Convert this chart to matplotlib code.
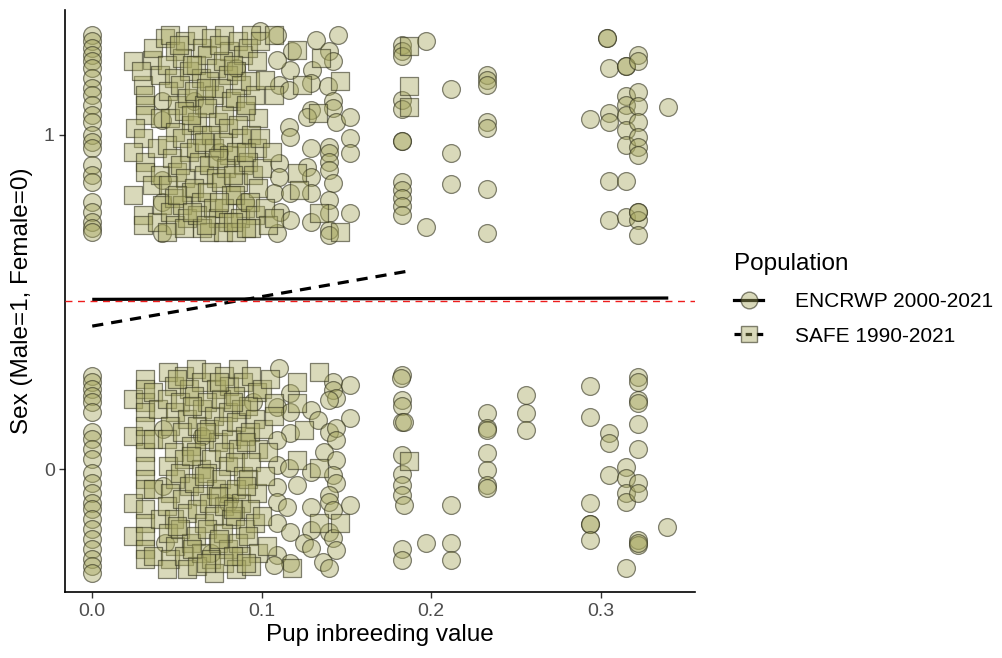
import numpy as np
import matplotlib
matplotlib.use('Agg')
import matplotlib.pyplot as plt
from matplotlib.lines import Line2D

plt.rcParams['font.family'] = ['Liberation Sans', 'DejaVu Sans']

# ENCRWP (circles): points (x = inbreeding, y = jittered sex)
enc_x0_up = [1.30, 1.28, 1.26, 1.24, 1.22, 1.20, 1.17, 1.14, 1.12, 1.09, 1.06, 1.04,
             1.00, 0.98, 0.96, 0.91, 0.88, 0.86, 0.80, 0.77, 0.74, 0.72, 0.71]
enc_x0_lo = [0.28, 0.26, 0.24, 0.22, 0.20, 0.17, 0.11, 0.09, 0.06, 0.03, -0.01, -0.04,
             -0.07, -0.10, -0.12, -0.15, -0.18, -0.21, -0.24, -0.27, -0.29, -0.31]

enc_mid = [
    # hidden under the squares
    (0.041, 1.10), (0.041, 1.045), (0.041, 0.865), (0.041, 0.80), (0.041, 0.706),
    (0.060, 1.10), (0.075, 0.95), (0.090, 0.80), (0.085, 1.20), (0.099, 1.31),
    (0.042, 0.12), (0.042, -0.05), (0.043, -0.22), (0.065, 0.10), (0.080, -0.10),
    (0.095, 0.20), (0.070, -0.25),
    # upper band 0.1-0.15
    (0.109, 1.30), (0.118, 1.25), (0.132, 1.285), (0.145, 1.30), (0.140, 1.25),
    (0.142, 1.22), (0.130, 1.195), (0.117, 1.195), (0.109, 1.225), (0.110, 1.15),
    (0.116, 1.135), (0.129, 1.155), (0.139, 1.145), (0.142, 1.10), (0.142, 1.08),
    (0.129, 1.075), (0.127, 1.055), (0.144, 1.04), (0.152, 1.055), (0.152, 0.99),
    (0.152, 0.946), (0.116, 1.025), (0.117, 0.995), (0.129, 0.96), (0.140, 0.965),
    (0.140, 0.946), (0.140, 0.92), (0.140, 0.895), (0.110, 0.915), (0.110, 0.875),
    (0.127, 0.905), (0.129, 0.875), (0.142, 0.855), (0.107, 0.825), (0.117, 0.825),
    (0.129, 0.825), (0.140, 0.805), (0.140, 0.766), (0.152, 0.766), (0.111, 0.77),
    (0.117, 0.746), (0.129, 0.74), (0.109, 0.707), (0.140, 0.716), (0.140, 0.70),
    # lower band 0.1-0.15
    (0.110, 0.302), (0.142, 0.26), (0.142, 0.237), (0.144, 0.212), (0.152, 0.251),
    (0.140, 0.207), (0.117, 0.227), (0.109, 0.186), (0.117, 0.171), (0.129, 0.177),
    (0.133, 0.147), (0.152, 0.152), (0.117, 0.108), (0.140, 0.111), (0.144, 0.123),
    (0.144, 0.087), (0.109, 0.087), (0.137, 0.051), (0.144, 0.027), (0.109, 0.012),
    (0.116, 0.003), (0.129, -0.009), (0.142, -0.018), (0.144, -0.042), (0.121, -0.048),
    (0.109, -0.054), (0.109, -0.099), (0.115, -0.114), (0.129, -0.114), (0.140, -0.078),
    (0.140, -0.099), (0.152, -0.108), (0.142, -0.123), (0.109, -0.162), (0.129, -0.183),
    (0.117, -0.189), (0.140, -0.189), (0.142, -0.207), (0.125, -0.222), (0.144, -0.243),
    (0.129, -0.237), (0.109, -0.257), (0.117, -0.281), (0.136, -0.278), (0.140, -0.296),
    (0.107, -0.287),
]

enc_right = [
    # upper band
    (0.183, 1.27), (0.183, 1.25), (0.183, 1.235), (0.183, 1.105), (0.183, 1.078),
    (0.183, 0.983), (0.183, 0.983), (0.183, 0.86), (0.183, 0.835), (0.183, 0.81),
    (0.183, 0.787), (0.183, 0.76), (0.197, 1.28), (0.197, 0.725),
    (0.212, 1.137), (0.212, 0.946), (0.212, 0.853),
    (0.233, 1.18), (0.233, 1.165), (0.233, 1.15), (0.233, 1.04), (0.233, 1.02),
    (0.233, 0.838), (0.233, 0.707), (0.294, 1.048),
    (0.304, 1.29), (0.304, 1.29), (0.305, 1.20), (0.305, 1.066), (0.305, 1.04),
    (0.305, 0.862), (0.305, 0.744),
    (0.315, 1.205), (0.315, 1.205), (0.315, 1.117), (0.315, 1.09), (0.315, 1.06),
    (0.315, 1.015), (0.315, 0.97), (0.315, 0.862), (0.315, 0.755),
    (0.322, 1.24), (0.322, 1.22), (0.322, 1.127), (0.322, 1.085), (0.322, 1.04),
    (0.322, 0.995), (0.322, 0.965), (0.322, 0.94), (0.322, 0.77), (0.322, 0.745),
    (0.322, 0.70), (0.322, 0.77), (0.340, 1.084),
    # lower band
    (0.183, 0.281), (0.182, 0.272), (0.183, 0.207), (0.183, 0.19), (0.183, 0.142),
    (0.184, 0.142), (0.183, 0.042), (0.183, -0.013), (0.183, -0.048), (0.183, -0.078),
    (0.184, -0.108), (0.183, -0.24), (0.183, -0.272), (0.197, -0.222),
    (0.212, -0.108), (0.212, -0.22), (0.212, -0.272),
    (0.233, 0.168), (0.233, 0.123), (0.233, 0.117), (0.233, 0.048), (0.233, -0.003),
    (0.233, -0.048), (0.233, -0.057),
    (0.256, 0.222), (0.256, 0.168), (0.256, 0.117),
    (0.294, 0.248), (0.294, 0.156), (0.294, -0.102), (0.294, -0.165), (0.294, -0.165),
    (0.294, -0.213),
    (0.305, 0.108), (0.305, 0.078), (0.305, -0.018),
    (0.315, 0.007), (0.315, -0.027), (0.315, -0.072), (0.315, -0.098), (0.315, -0.297),
    (0.322, 0.276), (0.322, 0.261), (0.322, 0.207), (0.322, 0.197), (0.322, 0.135),
    (0.322, 0.06), (0.322, -0.042), (0.322, -0.072), (0.322, -0.213), (0.322, -0.228),
    (0.322, -0.22), (0.339, -0.173),
]

# SAFE (squares)
safe_up = [
    (0.024, 1.22), (0.035, 1.225), (0.036, 1.26), (0.043, 1.29), (0.030, 1.15),
    (0.031, 1.12), (0.031, 1.09), (0.031, 1.06), (0.025, 1.02), (0.030, 0.99),
    (0.024, 0.95), (0.031, 0.92), (0.031, 0.89), (0.024, 0.82), (0.035, 0.85),
    (0.030, 0.76), (0.030, 0.73), (0.038, 0.74), (0.040, 1.18), (0.040, 1.05),
    (0.038, 0.96), (0.040, 0.88), (0.041, 0.79), (0.029, 1.19),
    (0.046, 1.30), (0.049, 1.25), (0.044, 1.21), (0.048, 1.17), (0.045, 1.13),
    (0.050, 1.09), (0.046, 1.05), (0.049, 1.01), (0.044, 0.97), (0.047, 0.93),
    (0.050, 0.89), (0.045, 0.85), (0.048, 0.81), (0.046, 0.77), (0.049, 0.73),
    (0.044, 0.71),
    (0.055, 1.28), (0.053, 1.23), (0.057, 1.19), (0.052, 1.15), (0.056, 1.11),
    (0.054, 1.07), (0.058, 1.03), (0.053, 0.99), (0.057, 0.95), (0.052, 0.91),
    (0.055, 0.87), (0.058, 0.83), (0.053, 0.79), (0.056, 0.75), (0.054, 0.72),
    (0.062, 1.30), (0.065, 1.26), (0.061, 1.21), (0.064, 1.17), (0.060, 1.13),
    (0.066, 1.09), (0.062, 1.04), (0.065, 1.00), (0.061, 0.96), (0.063, 0.92),
    (0.066, 0.88), (0.060, 0.84), (0.064, 0.80), (0.062, 0.76), (0.065, 0.72),
    (0.070, 1.29), (0.068, 1.24), (0.073, 1.20), (0.069, 1.16), (0.072, 1.12),
    (0.068, 1.08), (0.074, 1.04), (0.070, 1.00), (0.072, 0.96), (0.069, 0.91),
    (0.073, 0.87), (0.068, 0.83), (0.071, 0.78), (0.074, 0.75), (0.069, 0.71),
    (0.078, 1.30), (0.081, 1.25), (0.077, 1.22), (0.080, 1.18), (0.076, 1.14),
    (0.082, 1.10), (0.078, 1.06), (0.080, 1.02), (0.077, 0.98), (0.081, 0.94),
    (0.079, 0.90), (0.076, 0.86), (0.082, 0.82), (0.078, 0.78), (0.080, 0.74),
    (0.077, 0.71),
    (0.086, 1.28), (0.089, 1.24), (0.085, 1.19), (0.088, 1.15), (0.084, 1.11),
    (0.090, 1.07), (0.086, 1.03), (0.088, 0.99), (0.085, 0.95), (0.089, 0.91),
    (0.086, 0.86), (0.084, 0.82), (0.090, 0.78), (0.087, 0.75), (0.085, 0.71),
    (0.094, 1.30), (0.092, 1.26), (0.097, 1.22), (0.093, 1.16), (0.096, 1.12),
    (0.098, 1.05), (0.094, 1.00), (0.097, 0.96), (0.092, 0.92), (0.095, 0.88),
    (0.098, 0.84), (0.093, 0.80), (0.096, 0.76), (0.094, 0.72),
    (0.051, 1.27), (0.059, 1.21), (0.067, 1.14), (0.075, 1.27), (0.083, 1.21),
    (0.091, 1.09), (0.058, 1.06), (0.066, 0.98), (0.074, 0.93), (0.083, 0.88),
    (0.091, 0.95), (0.050, 0.82), (0.059, 0.77), (0.067, 0.73), (0.075, 0.80),
    (0.083, 0.74), (0.091, 0.72), (0.099, 0.99), (0.100, 0.90), (0.102, 0.78),
    (0.104, 0.73), (0.099, 1.28), (0.106, 0.95),
    (0.107, 1.30), (0.121, 1.255), (0.135, 1.23), (0.146, 1.16), (0.124, 1.15),
    (0.102, 1.165), (0.107, 1.12), (0.133, 1.066), (0.121, 0.886), (0.122, 0.835),
    (0.134, 0.766), (0.146, 0.71), (0.107, 0.75),
    (0.187, 1.266), (0.187, 1.147), (0.187, 1.082),
]

safe_lo = [
    (0.024, 0.21), (0.024, 0.10), (0.024, -0.10), (0.024, -0.20), (0.031, 0.27),
    (0.031, 0.24), (0.031, 0.20), (0.031, 0.17), (0.031, 0.13), (0.031, 0.09),
    (0.031, 0.05), (0.031, 0.01), (0.031, -0.03), (0.031, -0.06), (0.031, -0.12),
    (0.031, -0.16), (0.031, -0.20), (0.031, -0.24), (0.031, -0.27), (0.036, 0.23),
    (0.036, 0.09), (0.036, -0.06), (0.036, -0.26), (0.039, 0.18), (0.040, -0.15),
    (0.045, 0.29), (0.048, 0.25), (0.044, 0.21), (0.049, 0.17), (0.046, 0.13),
    (0.044, 0.09), (0.048, 0.05), (0.045, 0.01), (0.049, -0.03), (0.046, -0.07),
    (0.044, -0.11), (0.048, -0.15), (0.045, -0.19), (0.049, -0.23), (0.046, -0.27),
    (0.044, -0.30),
    (0.054, 0.28), (0.057, 0.24), (0.052, 0.20), (0.056, 0.15), (0.053, 0.11),
    (0.058, 0.07), (0.054, 0.03), (0.052, -0.01), (0.057, -0.05), (0.053, -0.09),
    (0.056, -0.13), (0.052, -0.18), (0.058, -0.22), (0.054, -0.26), (0.056, -0.30),
    (0.061, 0.30), (0.064, 0.26), (0.060, 0.22), (0.065, 0.18), (0.062, 0.13),
    (0.066, 0.09), (0.061, 0.05), (0.064, 0.00), (0.060, -0.04), (0.065, -0.08),
    (0.062, -0.12), (0.066, -0.16), (0.061, -0.20), (0.064, -0.25), (0.062, -0.29),
    (0.070, 0.29), (0.073, 0.24), (0.068, 0.20), (0.072, 0.16), (0.069, 0.12),
    (0.074, 0.08), (0.070, 0.03), (0.068, -0.01), (0.073, -0.06), (0.069, -0.10),
    (0.072, -0.14), (0.068, -0.18), (0.074, -0.22), (0.070, -0.27), (0.072, -0.31),
    (0.078, 0.28), (0.081, 0.25), (0.076, 0.21), (0.080, 0.17), (0.077, 0.13),
    (0.082, 0.09), (0.078, 0.05), (0.080, 0.01), (0.076, -0.03), (0.081, -0.07),
    (0.078, -0.11), (0.082, -0.15), (0.077, -0.19), (0.080, -0.24), (0.078, -0.28),
    (0.086, 0.30), (0.089, 0.26), (0.084, 0.22), (0.088, 0.18), (0.085, 0.14),
    (0.090, 0.10), (0.086, 0.06), (0.084, 0.02), (0.089, -0.02), (0.085, -0.06),
    (0.088, -0.10), (0.084, -0.14), (0.090, -0.18), (0.086, -0.22), (0.088, -0.26),
    (0.085, -0.30),
    (0.094, 0.28), (0.097, 0.23), (0.092, 0.19), (0.096, 0.15), (0.093, 0.11),
    (0.098, 0.06), (0.094, 0.02), (0.092, -0.03), (0.097, -0.07), (0.093, -0.12),
    (0.096, -0.16), (0.092, -0.20), (0.098, -0.25), (0.094, -0.29),
    (0.050, 0.27), (0.059, 0.19), (0.067, 0.11), (0.075, 0.26), (0.083, 0.20),
    (0.091, 0.08), (0.058, 0.04), (0.066, -0.02), (0.074, -0.08), (0.083, -0.12),
    (0.091, -0.05), (0.050, -0.17), (0.059, -0.24), (0.067, -0.28), (0.075, -0.21),
    (0.083, -0.26), (0.091, -0.28), (0.100, 0.24), (0.101, 0.12), (0.102, -0.02),
    (0.100, -0.14), (0.103, -0.23), (0.105, 0.27), (0.104, 0.05),
    (0.134, 0.29), (0.121, 0.26), (0.121, 0.197), (0.125, 0.117), (0.121, 0.027),
    (0.134, 0.003), (0.134, -0.162), (0.146, -0.162), (0.118, -0.297),
    (0.107, 0.197), (0.107, 0.16),
    (0.187, 0.024),
]

# fitted lines (end points)
enc_fit_x = [0.0, 0.34]
enc_fit_y = [0.508, 0.512]
safe_fit_x = [0.0, 0.187]
safe_fit_y = [0.428, 0.593]

enc = np.array([(0.0, v) for v in enc_x0_up + enc_x0_lo] + enc_mid + enc_right)
safe = np.array(safe_up + safe_lo)

fig = plt.figure(figsize=(10.02, 6.58), dpi=100)
ax = fig.add_axes([0.065, 0.1, 0.629, 0.885])

fill = (0.66, 0.66, 0.38, 0.43)
edge = (0.2, 0.2, 0.12, 0.6)
ax.scatter(enc[:, 0], enc[:, 1], s=165, marker='o', facecolor=fill, edgecolor=edge,
           linewidth=0.9, zorder=2)
ax.scatter(safe[:, 0], safe[:, 1], s=150, marker='s', facecolor=fill, edgecolor=edge,
           linewidth=0.9, zorder=3)

ax.plot(enc_fit_x, enc_fit_y, color='black', lw=2.3, solid_capstyle='butt', zorder=4)
ax.plot(safe_fit_x, safe_fit_y, color='black', lw=2.3, dashes=(3.5, 2.5), zorder=4)
ax.axhline(0.503, color='#ee1c1c', lw=1.0, dashes=(5, 4), zorder=4)

ax.set_xlim(-0.016, 0.356)
ax.set_ylim(-0.368, 1.374)
ax.set_xticks([0.0, 0.1, 0.2, 0.3])
ax.set_xticklabels(['0.0', '0.1', '0.2', '0.3'])
ax.set_yticks([0, 1])
ax.set_yticklabels(['0', '1'])
for s in ['top', 'right']:
    ax.spines[s].set_visible(False)
for s in ['left', 'bottom']:
    ax.spines[s].set_linewidth(1.2)
ax.tick_params(colors='#333333', labelcolor='#4d4d4d', labelsize=14, length=4, width=1)
ax.set_xlabel('Pup inbreeding value', fontsize=17.5, labelpad=3)
ax.set_ylabel('Sex (Male=1, Female=0)', fontsize=17.5, labelpad=8)

handles = [
    Line2D([], [], color='black', lw=2.3, marker='o', markersize=12,
           markerfacecolor=fill, markeredgecolor=edge),
    Line2D([], [], color='black', lw=2.3, dashes=(2, 1.5), marker='s', markersize=11,
           markerfacecolor=fill, markeredgecolor=edge),
]
leg = fig.legend(handles, ['ENCRWP 2000-2021', 'SAFE 1990-2021'], title='Population',
                 loc='center left', bbox_to_anchor=(0.714, 0.545), frameon=False,
                 fontsize=15, title_fontsize=17.5, handlelength=1.4, handletextpad=1.5,
                 labelspacing=0.75)
leg._legend_box.align = 'left'
leg._legend_box.sep = 12

fig.savefig('out.png', dpi=100)
